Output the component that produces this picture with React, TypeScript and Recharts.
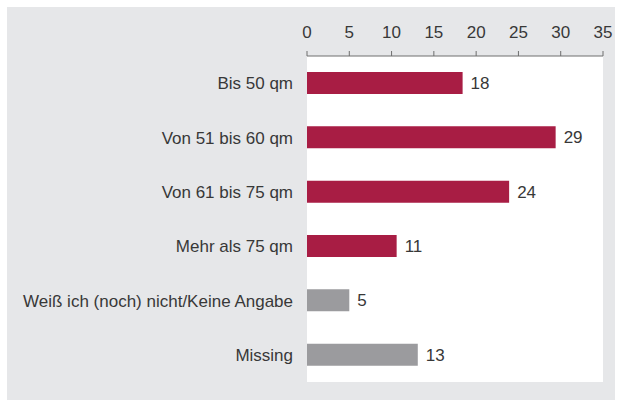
import { BarChart, Bar, XAxis, YAxis, CartesianGrid, Cell, LabelList } from 'recharts'

const categories = [
  'Bis 50 qm',
  'Von 51 bis 60 qm',
  'Von 61 bis 75 qm',
  'Mehr als 75 qm',
  'Weiß ich (noch) nicht/Keine Angabe',
  'Missing',
]
const shares = [18.4, 29.4, 23.9, 10.6, 5.0, 13.1]
const shareLabels = ['18', '29', '24', '11', '5', '13']
const groups = ['size', 'size', 'size', 'size', 'other', 'other']
const xTicks = [0, 5, 10, 15, 20, 25, 30, 35]
const boundaryTicks = [0, 1, 2, 3, 4, 5, 6]

const groupColor: Record<string, string> = { size: '#a81d44', other: '#9b9b9e' }

const rows = categories.map((name, i) => ({
  name,
  value: shares[i],
  label: shareLabels[i],
  group: groups[i],
}))

const font = '"Liberation Sans", Arial, sans-serif'
const axisColor = '#6e6e6e'
const textColor = '#383838'

const App = () => (
  <div style={{ position: 'absolute', left: 0, top: 0, width: 619, height: 403, background: '#fff', fontFamily: font }}>
    <div style={{ position: 'absolute', left: 7, top: 7, width: 608, height: 393, background: '#e6e7e9' }} />
    <BarChart
      width={619}
      height={403}
      layout="vertical"
      data={rows}
      margin={{ top: 16, right: 16, bottom: 21, left: 0 }}
      style={{ position: 'absolute', left: 0, top: 0 }}
    >
      <CartesianGrid fill="#fff" horizontal={false} vertical={false} stroke="none" />
      <XAxis
        type="number"
        orientation="top"
        domain={[0, 35]}
        ticks={xTicks}
        height={40}
        tickSize={5}
        tickMargin={13}
        axisLine={{ stroke: axisColor }}
        tickLine={{ stroke: axisColor }}
        tick={{ fill: textColor, fontSize: 17, fontFamily: font }}
      />
      <YAxis
        type="category"
        dataKey="name"
        width={307}
        tickSize={0}
        tickMargin={14}
        axisLine={false}
        tickLine={false}
        tick={{ fill: textColor, fontSize: 17, fontFamily: font }}
      />
      <YAxis
        yAxisId="bands"
        type="number"
        domain={[0, 6]}
        ticks={boundaryTicks}
        allowDataOverflow
        width={0}
        tickSize={6}
        axisLine={{ stroke: axisColor }}
        tickLine={{ stroke: axisColor }}
        tick={() => <g />}
      />
      <Bar dataKey="value" barSize={22} isAnimationActive={false}>
        {rows.map((r) => (
          <Cell key={r.name} fill={groupColor[r.group]} />
        ))}
        <LabelList dataKey="label" position="right" offset={8} fill={textColor} fontSize={17} fontFamily={font} />
      </Bar>
    </BarChart>
  </div>
)

export default App
